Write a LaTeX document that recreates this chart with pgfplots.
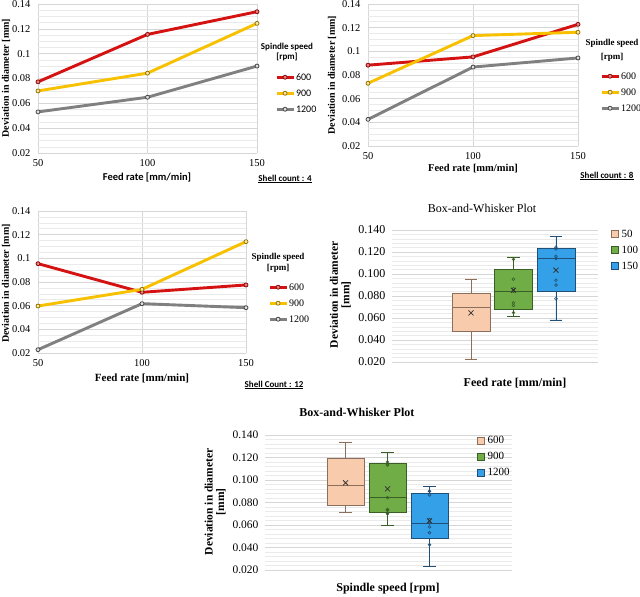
\documentclass[border=0pt]{standalone}
\usepackage{fontspec}
\setmainfont{Liberation Serif}
\newfontfamily\calfont{Carlito}
\usepackage{pgfplots}
\pgfplotsset{compat=1.18}
\usepgfplotslibrary{statistics}

\definecolor{cred}{RGB}{212,18,18}
\definecolor{cyel}{RGB}{247,193,0}
\definecolor{cgry}{RGB}{128,128,128}
\definecolor{boxA}{RGB}{248,203,173}
\definecolor{boxAd}{RGB}{140,110,92}
\definecolor{boxB}{RGB}{112,173,71}
\definecolor{boxBd}{RGB}{58,95,38}
\definecolor{boxC}{RGB}{52,160,232}
\definecolor{boxCd}{RGB}{32,80,120}
\definecolor{gridc}{RGB}{214,214,214}
\definecolor{gridm}{RGB}{234,234,234}

\newcommand{\fs}[1]{\fontsize{#1}{#1}\selectfont}

\pgfplotsset{
  common/.style={
    scale only axis, clip=false,
    ymin=0.02, ymax=0.14,
    ytick={0.02,0.04,0.06,0.08,0.10,0.12,0.14},
    ymajorgrids, yminorgrids,
    major grid style={gridc, line width=0.6pt},
    minor grid style={gridm, line width=0.5pt},
    axis line style={draw=none},
    major tick length=0pt, minor tick length=0pt,
    legend cell align=left,
  },
  linechart/.style={
    common,
    xmin=50, xmax=150,
    xtick={50,100,150}, xticklabels={50,100,150},
    yticklabels={0.02,0.04,0.06,0.08,0.1,0.12,0.14},
    minor y tick num=3,
    xmajorgrids,
    tick label style={font=\fs{10.5}},
    xticklabel style={yshift=-3pt},
    yticklabel style={xshift=-4pt},
    legend style={draw=none, fill=none, anchor=north west,
      nodes={inner sep=0pt, text height=7pt, text depth=1pt},
      row sep=8pt, column sep=1pt},
  },
  s600/.style={cred, line width=2.9pt, line join=round, mark=*, mark size=2pt,
     mark options={solid, line width=0.8pt, draw=cred!65!black, fill=cred!55!white}},
  s900/.style={cyel, line width=2.9pt, line join=round, mark=*, mark size=2pt,
     mark options={solid, line width=0.8pt, draw=cyel!60!black, fill=cyel!35!white}},
  s1200/.style={cgry, line width=2.9pt, line join=round, mark=*, mark size=2pt,
     mark options={solid, line width=0.8pt, draw=cgry!55!black, fill=cgry!25!white}},
  boxchart/.style={
    common,
    yticklabels={0.020,0.040,0.060,0.080,0.100,0.120,0.140},
    minor y tick num=4,
    xtick=\empty,
    yticklabel style={xshift=-3pt},
    boxplot/draw direction=y,
    legend style={draw=none, fill=none, anchor=north west,
      nodes={inner sep=0pt, text height=7.5pt, text depth=1.5pt},
      row sep=7pt, column sep=3pt},
    legend image code/.code={\draw[#1] (0pt,-3.5pt) rectangle (7pt,3.5pt);},
  },
  meanmark/.style={forget plot, only marks, mark=x, mark size=3.5pt, line width=0.8pt, black!80},
  pts/.style={forget plot, only marks, mark=o, mark size=1.4pt, line width=0.6pt},
}

\begin{document}
\begin{tikzpicture}
\useasboundingbox (0,0) rectangle (640pt,597pt);

% ---------------- Panel 1: Shell count 4
\begin{axis}[linechart, at={(38pt,444pt)}, anchor=south west,
  width=219pt, height=149pt,
  xlabel={Feed rate [mm/min]},
  xlabel style={at={(axis description cs:0.498,-0.161)}, anchor=center, font=\calfont\bfseries\fs{10.5}},
  ylabel={Deviation in diameter [mm]},
  ylabel style={at={(axis description cs:-0.146,0.503)}, anchor=center, font=\bfseries\fs{10}},
  legend style={at={(axis description cs:1.068,0.550)}, font=\calfont\fs{10}},
]
\addplot[s600] coordinates {(50,0.0773) (100,0.1155) (150,0.1338)};
\addplot[s900] coordinates {(50,0.0700) (100,0.0843) (150,0.1244)};
\addplot[s1200] coordinates {(50,0.0531) (100,0.0649) (150,0.0900)};
\legend{600,900,1200}
\node[font=\calfont\bfseries\fs{9}] at (axis description cs:1.137,0.711) {Spindle speed};
\node[font=\calfont\bfseries\fs{9}] at (axis description cs:1.137,0.644) {[rpm]};
\node[font=\calfont\bfseries\fs{9}] at (axis description cs:1.128,-0.174) {\underline{Shell count : 4}};
\end{axis}

% ---------------- Panel 2: Shell count 8
\begin{axis}[linechart, at={(368pt,451pt)}, anchor=south west,
  width=210pt, height=142pt,
  xlabel={Feed rate [mm/min]},
  xlabel style={at={(axis description cs:0.5,-0.162)}, anchor=center, font=\bfseries\fs{10.5}},
  ylabel={Deviation in diameter [mm]},
  ylabel style={at={(axis description cs:-0.171,0.5)}, anchor=center, font=\bfseries\fs{10}},
  legend style={at={(axis description cs:1.09,0.535)}, font=\fs{10}},
]
\addplot[s600] coordinates {(50,0.0883) (100,0.0953) (150,0.1228)};
\addplot[s900] coordinates {(50,0.0730) (100,0.1133) (150,0.1161)};
\addplot[s1200] coordinates {(50,0.0425) (100,0.0867) (150,0.0944)};
\legend{600,900,1200}
\node[font=\bfseries\fs{9}] at (axis description cs:1.162,0.725) {Spindle speed};
\node[font=\bfseries\fs{9}] at (axis description cs:1.162,0.627) {[rpm]};
\node[font=\calfont\bfseries\fs{9}] at (axis description cs:1.138,-0.211) {\underline{Shell count : 8}};
\end{axis}

% ---------------- Panel 3: Shell count 12
\begin{axis}[linechart, at={(38pt,244pt)}, anchor=south west,
  width=208pt, height=142pt,
  xlabel={Feed rate [mm/min]},
  xlabel style={at={(axis description cs:0.5,-0.176)}, anchor=center, font=\bfseries\fs{11}},
  ylabel={Deviation in diameter [mm]},
  ylabel style={at={(axis description cs:-0.154,0.49)}, anchor=center, font=\bfseries\fs{10}},
  legend style={at={(axis description cs:1.091,0.507)}, font=\fs{10}},
]
\addplot[s600] coordinates {(50,0.0955) (100,0.0713) (150,0.0775)};
\addplot[s900] coordinates {(50,0.0597) (100,0.0738) (150,0.1141)};
\addplot[s1200] coordinates {(50,0.0228) (100,0.0617) (150,0.0583)};
\legend{600,900,1200}
\node[font=\bfseries\fs{9}] at (axis description cs:1.154,0.676) {Spindle speed};
\node[font=\bfseries\fs{9}] at (axis description cs:1.154,0.599) {[rpm]};
\node[font=\calfont\bfseries\fs{9}] at (axis description cs:1.135,-0.225) {\underline{Shell Count : 12}};
\end{axis}

% ---------------- Panel 4: Box plot by feed rate
\begin{axis}[boxchart, at={(392pt,235pt)}, anchor=south west,
  width=206pt, height=132pt,
  xmin=-0.86, xmax=3.99,
  tick label style={font=\fs{12}},
  title={Box-and-Whisker Plot},
  title style={at={(axis description cs:0.437,1.12)}, anchor=center, font=\fs{12}},
  xlabel={Feed rate [mm/min]},
  xlabel style={at={(axis description cs:0.597,-0.159)}, anchor=center, font=\bfseries\fs{12}},
  ylabel={Deviation in diameter\\{[mm]}},
  ylabel style={at={(axis description cs:-0.25,0.51)}, anchor=center, align=center, font=\bfseries\fs{11.5}},
  legend style={at={(axis description cs:1.049,1.02)}, font=\fs{11}},
]
\addlegendimage{fill=boxA, draw=boxAd}
\addlegendimage{fill=boxB, draw=boxBd}
\addlegendimage{fill=boxC, draw=boxCd}
\legend{50,100,150}
\addplot[forget plot, fill=boxA, draw=boxAd, line width=0.7pt,
  boxplot prepared={draw position=1, lower whisker=0.0228, lower quartile=0.0478,
    median=0.0700, upper quartile=0.0828, upper whisker=0.0955,
    box extend=0.894, whisker extend=0.3}] coordinates {};
\addplot[forget plot, fill=boxB, draw=boxBd, line width=0.7pt,
  boxplot prepared={draw position=2, lower whisker=0.0617, lower quartile=0.0681,
    median=0.0843, upper quartile=0.1043, upper whisker=0.1155,
    box extend=0.894, whisker extend=0.3}] coordinates {};
\addplot[forget plot, fill=boxC, draw=boxCd, line width=0.7pt,
  boxplot prepared={draw position=3, lower whisker=0.0583, lower quartile=0.0838,
    median=0.1141, upper quartile=0.1236, upper whisker=0.1338,
    box extend=0.894, whisker extend=0.3}] coordinates {};
\addplot[pts, boxBd] coordinates {(2,0.0649) (2,0.0713) (2,0.0738) (2,0.0843) (2,0.0867) (2,0.0953) (2,0.1133)};
\addplot[pts, boxCd] coordinates {(3,0.0775) (3,0.0900) (3,0.0944) (3,0.1141) (3,0.1161) (3,0.1228) (3,0.1244)};
\addplot[meanmark] coordinates {(1,0.0647) (2,0.0852) (3,0.1035)};
\end{axis}

% ---------------- Panel 5: Box plot by spindle speed
\begin{axis}[boxchart, at={(265pt,27pt)}, anchor=south west,
  width=247pt, height=135pt,
  xmin=-0.917, xmax=4.964,
  tick label style={font=\fs{11.5}},
  title={Box-and-Whisker Plot},
  title style={at={(axis description cs:0.372,1.126)}, anchor=center, font=\bfseries\fs{12}},
  xlabel={Spindle speed [rpm]},
  xlabel style={at={(axis description cs:0.498,-0.141)}, anchor=center, font=\bfseries\fs{12}},
  ylabel={Deviation in diameter\\{[mm]}},
  ylabel style={at={(axis description cs:-0.202,0.504)}, anchor=center, align=center, font=\bfseries\fs{11.5}},
  legend style={at={(axis description cs:0.846,1.007)}, font=\fs{11}},
]
\addlegendimage{fill=boxA, draw=boxAd}
\addlegendimage{fill=boxB, draw=boxBd}
\addlegendimage{fill=boxC, draw=boxCd}
\legend{600,900,1200}
\addplot[forget plot, fill=boxA, draw=boxAd, line width=0.7pt,
  boxplot prepared={draw position=1, lower whisker=0.0713, lower quartile=0.0774,
    median=0.0953, upper quartile=0.1192, upper whisker=0.1338,
    box extend=0.88, whisker extend=0.3}] coordinates {};
\addplot[forget plot, fill=boxB, draw=boxBd, line width=0.7pt,
  boxplot prepared={draw position=2, lower whisker=0.0597, lower quartile=0.0715,
    median=0.0843, upper quartile=0.1151, upper whisker=0.1244,
    box extend=0.88, whisker extend=0.3}] coordinates {};
\addplot[forget plot, fill=boxC, draw=boxCd, line width=0.7pt,
  boxplot prepared={draw position=3, lower whisker=0.0228, lower quartile=0.0478,
    median=0.0617, upper quartile=0.0884, upper whisker=0.0944,
    box extend=0.88, whisker extend=0.3}] coordinates {};
\addplot[pts, boxBd] coordinates {(2,0.0700) (2,0.0730) (2,0.0738) (2,0.0843) (2,0.1133) (2,0.1141) (2,0.1161)};
\addplot[pts, boxCd] coordinates {(3,0.0425) (3,0.0531) (3,0.0583) (3,0.0617) (3,0.0649) (3,0.0867) (3,0.0900)};
\addplot[meanmark] coordinates {(1,0.0975) (2,0.0921) (3,0.0638)};
\end{axis}
\end{tikzpicture}
\end{document}
